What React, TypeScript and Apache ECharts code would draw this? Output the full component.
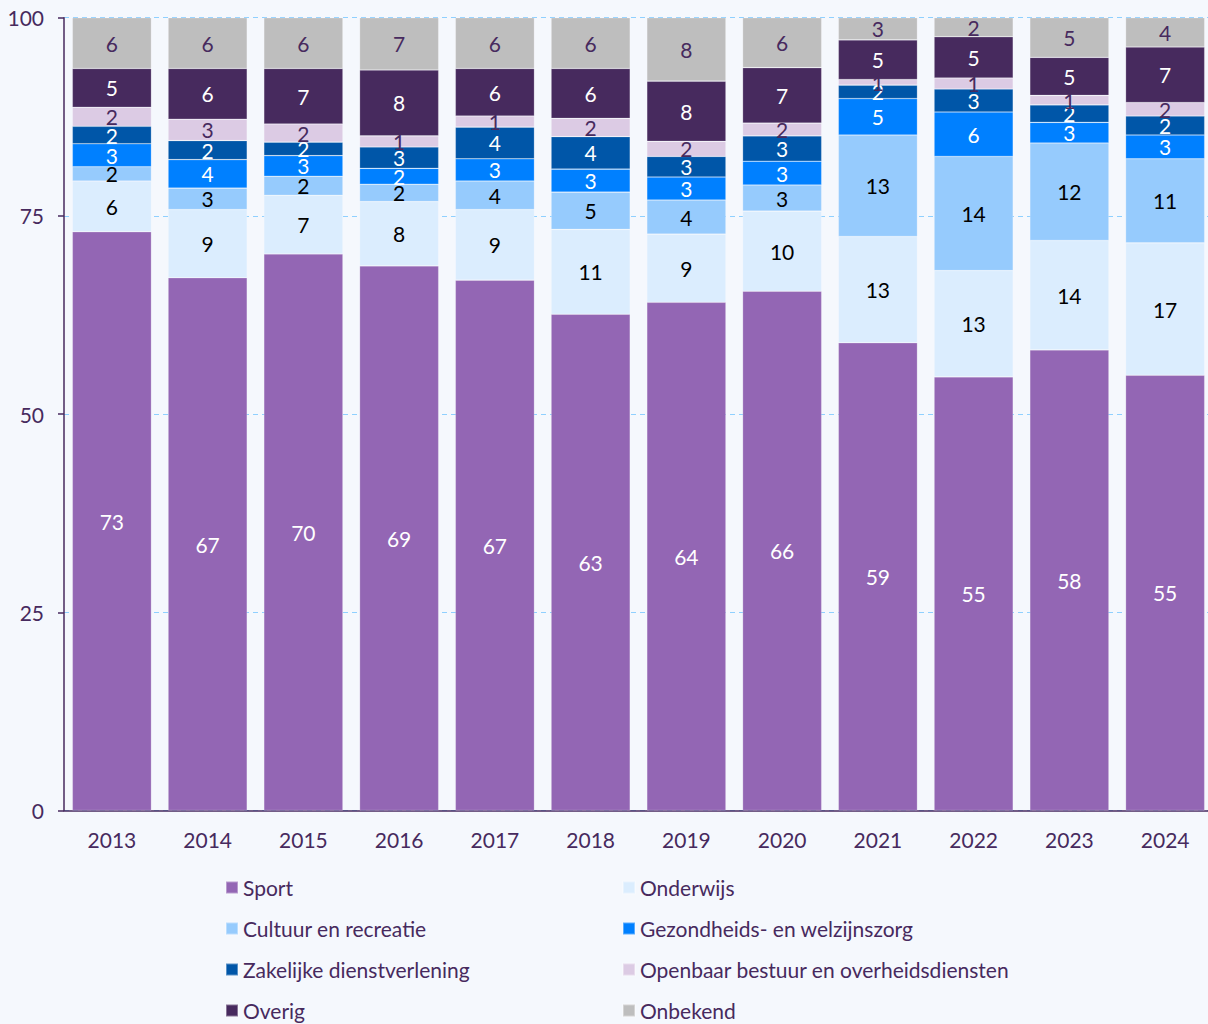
import React, { useEffect, useRef } from "react";
import * as echarts from "echarts";

const years = ["2013", "2014", "2015", "2016", "2017", "2018", "2019", "2020", "2021", "2022", "2023", "2024"];

const sport = [73.0, 67.2, 70.2, 68.7, 66.9, 62.6, 64.1, 65.5, 59.0, 54.7, 58.1, 54.9];
const onderwijs = [6.4, 8.6, 7.4, 8.1, 8.9, 10.7, 8.6, 10.1, 13.4, 13.4, 13.8, 16.7];
const cultuur = [1.8, 2.7, 2.4, 2.2, 3.6, 4.7, 4.3, 3.3, 12.8, 14.4, 12.3, 10.6];
const gezondheid = [2.9, 3.6, 2.6, 2.0, 2.8, 2.9, 2.9, 3.0, 4.6, 5.6, 2.6, 3.0];
const zakelijk = [2.2, 2.4, 1.7, 2.7, 4.0, 4.1, 2.6, 3.2, 1.7, 2.9, 2.2, 2.4];
const openbaar = [2.4, 2.7, 2.3, 1.4, 1.4, 2.3, 1.9, 1.6, 0.7, 1.4, 1.2, 1.7];
const overig = [4.9, 6.4, 7.0, 8.3, 6.0, 6.3, 7.6, 7.0, 5.0, 5.2, 4.8, 7.0];
const onbekend = [6.4, 6.4, 6.4, 6.6, 6.4, 6.4, 8.0, 6.3, 2.8, 2.4, 5.0, 3.7];

const yTicks = [0, 25, 50, 75, 100];

const DARK = "#472a5e";

const seriesDefs = [
  { name: "Sport", data: sport, color: "#9366b4", label: "#ffffff" },
  { name: "Onderwijs", data: onderwijs, color: "#dbedfe", label: "#000000" },
  { name: "Cultuur en recreatie", data: cultuur, color: "#96cbfd", label: "#000000" },
  { name: "Gezondheids- en welzijnszorg", data: gezondheid, color: "#0080ff", label: "#ffffff" },
  { name: "Zakelijke dienstverlening", data: zakelijk, color: "#0056a8", label: "#ffffff" },
  { name: "Openbaar bestuur en overheidsdiensten", data: openbaar, color: "#dccbe4", label: DARK },
  { name: "Overig", data: overig, color: "#472a5e", label: "#ffffff" },
  { name: "Onbekend", data: onbekend, color: "#bebebe", label: DARK },
];

export default function App() {
  const ref = useRef<HTMLDivElement>(null);
  useEffect(() => {
    if (!ref.current) return;
    document.body.style.overflow = "hidden";
    const chart = echarts.init(ref.current, null, { renderer: "svg" });
    const font = "Lato";
    const legendText = { color: DARK, fontSize: 21, fontFamily: font };
    chart.setOption({
      animation: false,
      backgroundColor: "#f5f8fd",
      textStyle: { fontFamily: font },
      grid: { left: 64, right: 0, top: 17.7, bottom: 213.5, containLabel: false },
      legend: [
        {
          orient: "vertical",
          left: 220,
          top: 872,
          height: 200,
          itemWidth: 12,
          itemHeight: 12,
          itemGap: 20,
          icon: "rect",
          textStyle: legendText,
          data: [seriesDefs[0].name, seriesDefs[2].name, seriesDefs[4].name, seriesDefs[6].name],
        },
        {
          orient: "vertical",
          left: 617,
          top: 872,
          height: 200,
          itemWidth: 12,
          itemHeight: 12,
          itemGap: 20,
          icon: "rect",
          textStyle: legendText,
          data: [seriesDefs[1].name, seriesDefs[3].name, seriesDefs[5].name, seriesDefs[7].name],
        },
      ],
      xAxis: {
        type: "category",
        data: years,
        axisLine: { show: true, lineStyle: { color: DARK, width: 1.5 } },
        axisTick: { show: false },
        axisLabel: { color: DARK, fontSize: 21, margin: 18, fontFamily: font },
      },
      yAxis: {
        type: "value",
        min: yTicks[0],
        max: yTicks[yTicks.length - 1],
        interval: 25,
        axisLine: { show: true, lineStyle: { color: DARK, width: 1.5 } },
        axisTick: { show: true, length: 6, lineStyle: { color: DARK, width: 1.5 } },
        axisLabel: { color: DARK, fontSize: 21, margin: 20, fontFamily: font },
        splitLine: { show: true, lineStyle: { color: "#8fd0ff", type: [5, 4], width: 1.2 } },
      },
      series: seriesDefs.map((s) => ({
        name: s.name,
        type: "bar",
        stack: "total",
        barCategoryGap: "17.4%",
        data: s.data,
        itemStyle: { color: s.color, borderColor: "rgba(255,255,255,0.35)", borderWidth: 0.6 },
        label: {
          show: true,
          position: "inside",
          color: s.label,
          fontSize: 21,
          fontFamily: font,
          formatter: (p: any) => String(Math.round(p.value)),
        },
        emphasis: { disabled: true },
      })),
    });
    return () => chart.dispose();
  }, []);
  return (
    <div
      ref={ref}
      style={{ position: "fixed", left: 0, top: 0, width: 1213, height: 1024 }}
    />
  );
}
